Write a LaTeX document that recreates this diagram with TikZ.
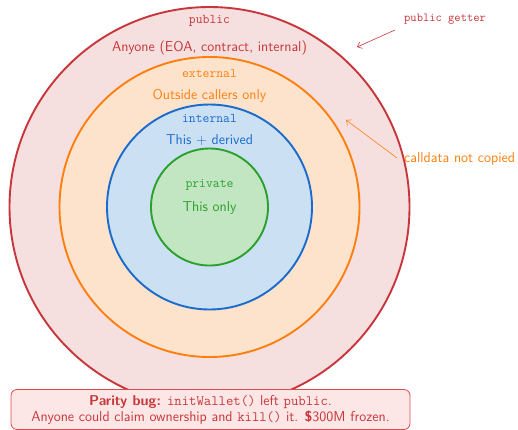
\documentclass[tikz,border=0pt]{standalone}
\usetikzlibrary{arrows.meta}
\renewcommand{\familydefault}{\sfdefault}
\definecolor{cred}{HTML}{C8363B}
\definecolor{fred}{HTML}{F5DFDF}
\definecolor{corange}{HTML}{FF7F0E}
\definecolor{forange}{HTML}{FDE3CC}
\definecolor{cblue}{HTML}{1A6BCC}
\definecolor{fblue}{HTML}{CCE0F4}
\definecolor{cgreen}{HTML}{2CA02C}
\definecolor{fgreen}{HTML}{C2E5C2}
\definecolor{cbox}{HTML}{DC4A4E}
\definecolor{fbox}{HTML}{FCE6E6}
\begin{document}
\begin{tikzpicture}[x=1pt,y=-1pt,
  ring/.style={line width=1.9pt},
  lbl/.style={inner sep=0pt, font=\fontsize{14.3}{16}\selectfont},
  tt/.style={inner sep=0pt, font=\fontsize{13.3}{16}\selectfont\ttfamily},
  ann/.style={-{Straight Barb[length=4pt,width=7pt]}, line width=0.6pt}]
\useasboundingbox (0,0) rectangle (518,429);
\coordinate (c) at (209.5,207);
\draw[ring, draw=cred, fill=fred] (c) circle[radius=200];
\draw[ring, draw=corange, fill=forange] (c) circle[radius=150];
\draw[ring, draw=cblue, fill=fblue] (c) circle[radius=102.5];
\draw[ring, draw=cgreen, fill=fgreen] (c) circle[radius=58.5];
\node[tt, text=cred] (pub) at (209.5,21) {public};
\node[lbl, text=cred] (pubd) at (209.5,48) {Anyone (EOA, contract, internal)};
\node[tt, text=corange] (ext) at (209.5,73) {external};
\node[lbl, text=corange] (extd) at (209.5,96) {Outside callers only};
\node[tt, text=cblue] (int) at (209.5,118) {internal};
\node[lbl, text=cblue] (intd) at (209.5,140) {This + derived};
\node[tt, text=cgreen] (priv) at (209.5,185) {private};
\node[lbl, text=cgreen] (privd) at (209.5,208) {This only};
\node[tt, text=cred, anchor=west, font=\fontsize{12.2}{14}\selectfont\ttfamily] (getter) at (404,19) {public getter};
\node[lbl, text=corange, anchor=west] (cdata) at (404,159) {calldata not copied};
\coordinate (ga) at (357,47);
\coordinate (ca) at (346,120);
\draw[ann, draw=cred] (395,30) -- (ga);
\draw[ann, draw=corange] (397,158) -- (ca);
\node[draw=cbox, fill=fbox, line width=0.8pt, rounded corners=6pt, minimum width=399pt, minimum height=40pt, inner sep=0pt, align=center, text=cred, font=\fontsize{14.3}{16}\selectfont] (bug) at (210.5,409.5)
  {\textbf{Parity bug:} \texttt{initWallet()} left \texttt{public}.\\
   Anyone could claim ownership and \texttt{kill()} it. \textbf{\$}300M frozen.};
\end{tikzpicture}
\end{document}
